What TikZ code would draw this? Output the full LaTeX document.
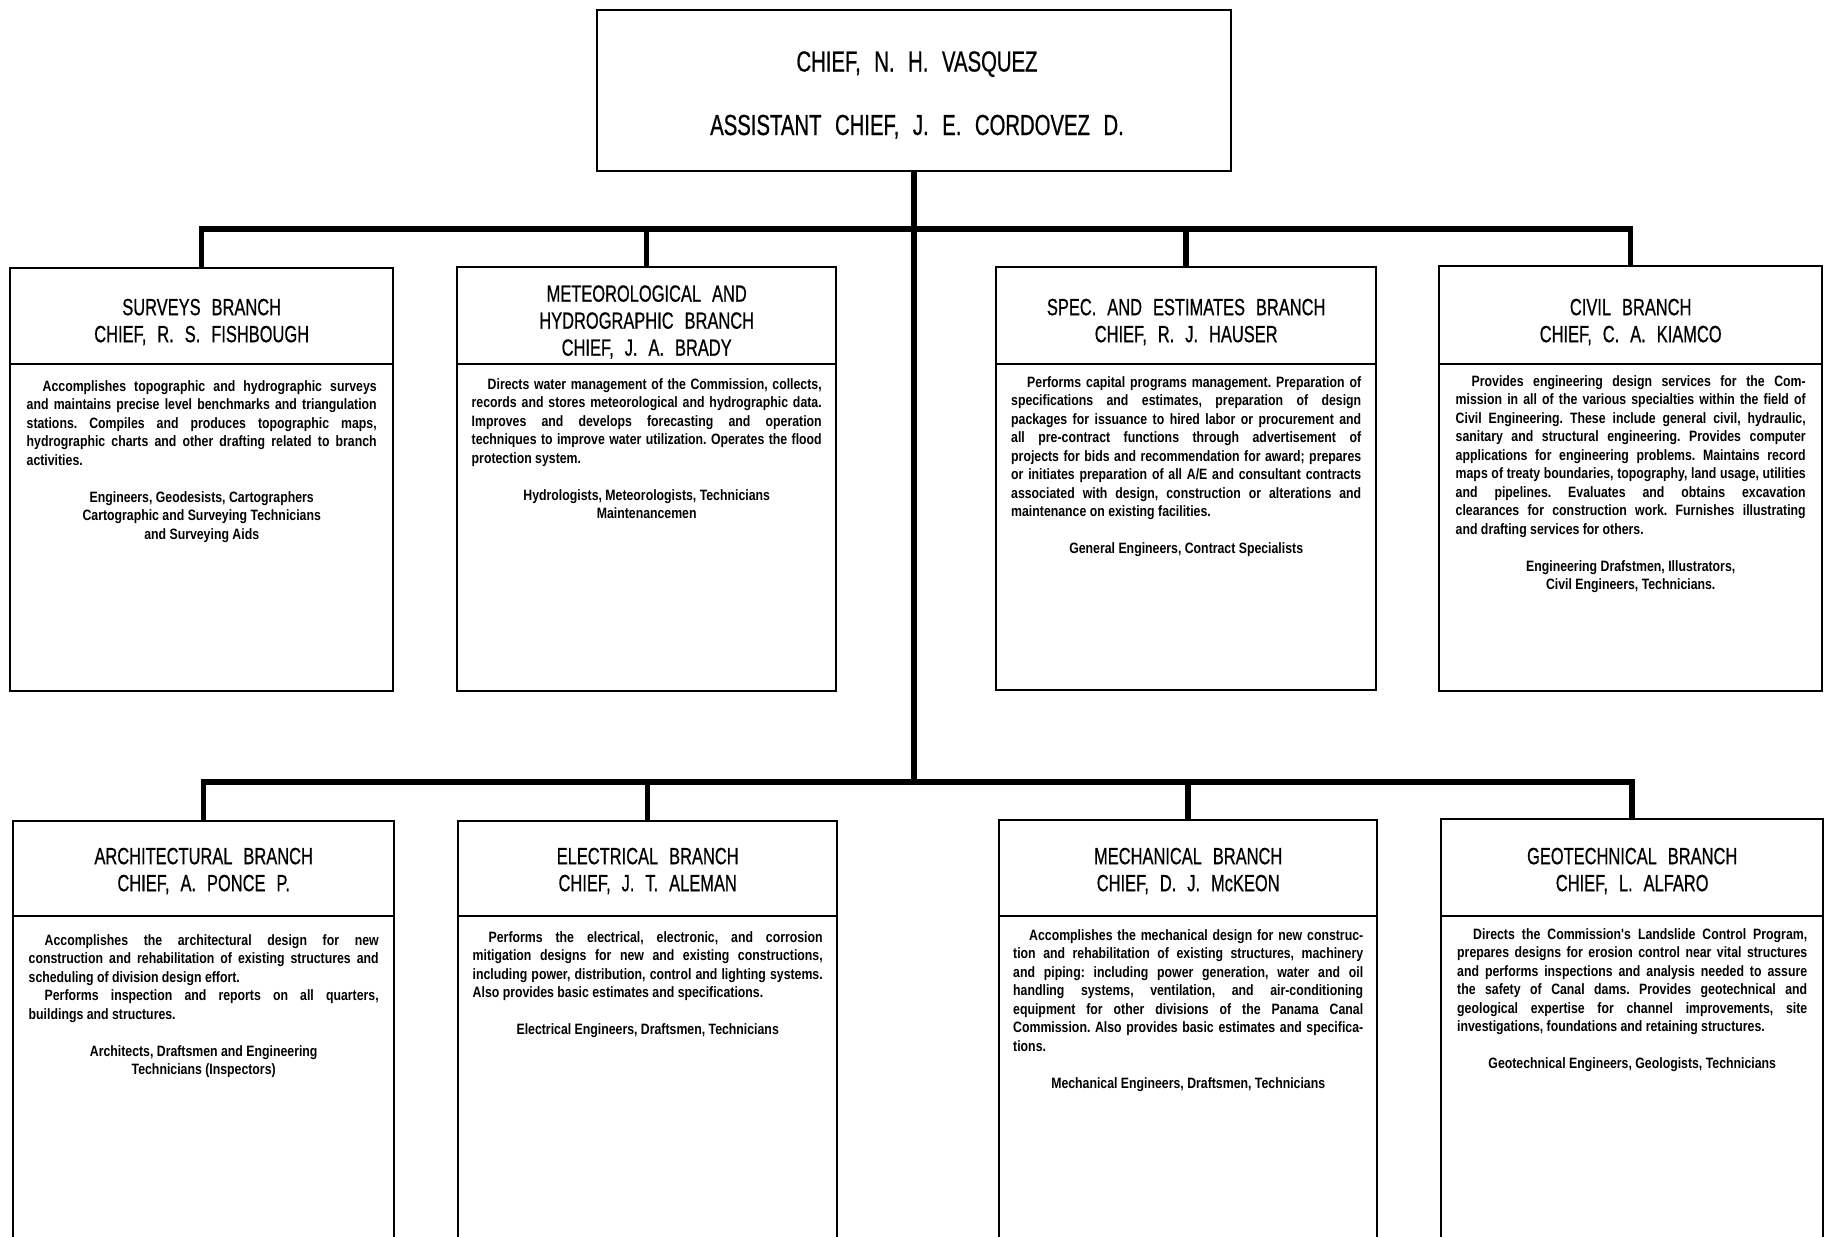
\documentclass[tikz,border=0pt]{standalone}
\usepackage{fontspec}
\setmainfont{Liberation Sans}
\newfontfamily\headfont[FakeStretch=0.70,WordSpace=2.4,FakeBold=0.6]{Liberation Sans}
\newfontfamily\descfont[FakeStretch=0.82]{Liberation Sans}
\begin{document}
\begin{tikzpicture}[x=1pt,y=-1pt,
  branch/.style={draw, line width=2.4pt, rectangle, inner sep=0pt, anchor=north west},
  conn/.style={line width=5.5pt, line join=miter},
  divider/.style={line width=2pt},
  chieftext/.style={anchor=base, inner sep=0pt, font=\headfont\fontsize{29}{32}\selectfont},
  headtext/.style={align=center, inner sep=0pt, font=\headfont\fontsize{23.5}{27}\selectfont},
  desc/.style={text width=350pt, align=justify, anchor=north, inner sep=0pt,
    font=\descfont\bfseries\fontsize{15}{18.5}\selectfont},
]
\fill[white] (0,0) rectangle (1824,1237);
\clip (0,0) rectangle (1824,1237);

% reference levels: buses, header dividers, header centres
\coordinate (ub) at (0,229);
\coordinate (lb) at (0,782);
\coordinate (dvU) at (0,364);
\coordinate (dvL) at (0,916);
\coordinate (hU) at (0,322);
\coordinate (hL) at (0,871);
% tops of the description blocks
\coordinate (d1) at (0,380);
\coordinate (d2) at (0,378);
\coordinate (d3) at (0,376);
\coordinate (d4) at (0,375);
\coordinate (d5) at (0,934);
\coordinate (d6) at (0,931);
\coordinate (d7) at (0,929);
\coordinate (d8) at (0,928);

% division chief
\node[branch, minimum width=634pt, minimum height=161pt] (chief) at (596,9) {};
\node[chieftext] (chiefA) at (917,71.5) {CHIEF, N. H. VASQUEZ};
\node[chieftext] (chiefB) at (917,135) {ASSISTANT CHIEF, J. E. CORDOVEZ D.};

% branch boxes, upper row
\node[branch, minimum width=383pt, minimum height=423pt] (s1) at (9,267) {};
\node[branch, minimum width=379pt, minimum height=424pt] (s2) at (456,266) {};
\node[branch, minimum width=380pt, minimum height=423pt] (s3) at (995,266) {};
\node[branch, minimum width=383pt, minimum height=425pt] (s4) at (1438,265) {};
% branch boxes, lower row (run off the sheet)
\node[branch, minimum width=381pt, minimum height=460pt] (l1) at (12,820) {};
\node[branch, minimum width=379pt, minimum height=460pt] (l2) at (457,820) {};
\node[branch, minimum width=378pt, minimum height=460pt] (l3) at (998,819) {};
\node[branch, minimum width=382pt, minimum height=460pt] (l4) at (1440,818) {};

% header dividers
\foreach \b in {s1,s2,s3,s4} \draw[divider] (\b.west |- dvU) -- (\b.east |- dvU);
\foreach \b in {l1,l2,l3,l4} \draw[divider] (\b.west |- dvL) -- (\b.east |- dvL);

% connectors
\draw[conn] (chief.south) -- (chief.south |- lb);
\draw[conn] (s1.north) -- (s1.north |- ub) -- (s4.north |- ub) -- (s4.north);
\draw[conn] (s2.north) -- (s2.north |- ub);
\draw[conn] (s3.north) -- (s3.north |- ub);
\draw[conn] (l1.north) -- (l1.north |- lb) -- (l4.north |- lb) -- (l4.north);
\draw[conn] (l2.north) -- (l2.north |- lb);
\draw[conn] (l3.north) -- (l3.north |- lb);

% headers
\node[headtext] (s1h) at (s1.north |- hU) {SURVEYS BRANCH\\CHIEF, R. S. FISHBOUGH};
\node[headtext] (s2h) at (s2.north |- hU) {METEOROLOGICAL AND\\HYDROGRAPHIC BRANCH\\CHIEF, J. A. BRADY};
\node[headtext] (s3h) at (s3.north |- hU) {SPEC. AND ESTIMATES BRANCH\\CHIEF, R. J. HAUSER};
\node[headtext] (s4h) at (s4.north |- hU) {CIVIL BRANCH\\CHIEF, C. A. KIAMCO};
\node[headtext] (l1h) at (l1.north |- hL) {ARCHITECTURAL BRANCH\\CHIEF, A. PONCE P.};
\node[headtext] (l2h) at (l2.north |- hL) {ELECTRICAL BRANCH\\CHIEF, J. T. ALEMAN};
\node[headtext] (l3h) at (l3.north |- hL) {MECHANICAL BRANCH\\CHIEF, D. J. McKEON};
\node[headtext] (l4h) at (l4.north |- hL) {GEOTECHNICAL BRANCH\\CHIEF, L. ALFARO};

% descriptions and staffing
\node[desc] (s1d) at (s1.north |- d1) {\parskip=0pt\tolerance=10000\hyphenpenalty=10000\frenchspacing
\noindent\hspace*{16pt}Accomplishes topographic and hydrographic surveys\linebreak
and maintains precise level benchmarks and triangulation\linebreak
stations. Compiles and produces topographic maps,\linebreak
hydrographic charts and other drafting related to branch\linebreak
activities.\par\vskip 18.5pt
{\centering Engineers, Geodesists, Cartographers\par
Cartographic and Surveying Technicians\par
and Surveying Aids\par}};

\node[desc] (s2d) at (s2.north |- d2) {\parskip=0pt\tolerance=10000\hyphenpenalty=10000\frenchspacing
\noindent\hspace*{16pt}Directs water management of the Commission, collects,\linebreak
records and stores meteorological and hydrographic data.\linebreak
Improves and develops forecasting and operation\linebreak
techniques to improve water utilization. Operates the flood\linebreak
protection system.\par\vskip 18.5pt
{\centering Hydrologists, Meteorologists, Technicians\par
Maintenancemen\par}};

\node[desc] (s3d) at (s3.north |- d3) {\parskip=0pt\tolerance=10000\hyphenpenalty=10000\frenchspacing
\noindent\hspace*{16pt}Performs capital programs management. Preparation of\linebreak
specifications and estimates, preparation of design\linebreak
packages for issuance to hired labor or procurement and\linebreak
all pre-contract functions through advertisement of\linebreak
projects for bids and recommendation for award; prepares\linebreak
or initiates preparation of all A/E and consultant contracts\linebreak
associated with design, construction or alterations and\linebreak
maintenance on existing facilities.\par\vskip 18.5pt
{\centering General Engineers, Contract Specialists\par}};

\node[desc] (s4d) at (s4.north |- d4) {\parskip=0pt\tolerance=10000\hyphenpenalty=10000\frenchspacing
\noindent\hspace*{16pt}Provides engineering design services for the Com-\linebreak
mission in all of the various specialties within the field of\linebreak
Civil Engineering. These include general civil, hydraulic,\linebreak
sanitary and structural engineering. Provides computer\linebreak
applications for engineering problems. Maintains record\linebreak
maps of treaty boundaries, topography, land usage, utilities\linebreak
and pipelines. Evaluates and obtains excavation\linebreak
clearances for construction work. Furnishes illustrating\linebreak
and drafting services for others.\par\vskip 18.5pt
{\centering Engineering Drafstmen, Illustrators,\par
Civil Engineers, Technicians.\par}};

\node[desc] (l1d) at (l1.north |- d5) {\parskip=0pt\tolerance=10000\hyphenpenalty=10000\frenchspacing
\noindent\hspace*{16pt}Accomplishes the architectural design for new\linebreak
construction and rehabilitation of existing structures and\linebreak
scheduling of division design effort.\par
\noindent\hspace*{16pt}Performs inspection and reports on all quarters,\linebreak
buildings and structures.\par\vskip 18.5pt
{\centering Architects, Draftsmen and Engineering\par
Technicians (Inspectors)\par}};

\node[desc] (l2d) at (l2.north |- d6) {\parskip=0pt\tolerance=10000\hyphenpenalty=10000\frenchspacing
\noindent\hspace*{16pt}Performs the electrical, electronic, and corrosion\linebreak
mitigation designs for new and existing constructions,\linebreak
including power, distribution, control and lighting systems.\linebreak
Also provides basic estimates and specifications.\par\vskip 18.5pt
{\centering Electrical Engineers, Draftsmen, Technicians\par}};

\node[desc] (l3d) at (l3.north |- d7) {\parskip=0pt\tolerance=10000\hyphenpenalty=10000\frenchspacing
\noindent\hspace*{16pt}Accomplishes the mechanical design for new construc-\linebreak
tion and rehabilitation of existing structures, machinery\linebreak
and piping: including power generation, water and oil\linebreak
handling systems, ventilation, and air-conditioning\linebreak
equipment for other divisions of the Panama Canal\linebreak
Commission. Also provides basic estimates and specifica-\linebreak
tions.\par\vskip 18.5pt
{\centering Mechanical Engineers, Draftsmen, Technicians\par}};

\node[desc] (l4d) at (l4.north |- d8) {\parskip=0pt\tolerance=10000\hyphenpenalty=10000\frenchspacing
\noindent\hspace*{16pt}Directs the Commission's Landslide Control Program,\linebreak
prepares designs for erosion control near vital structures\linebreak
and performs inspections and analysis needed to assure\linebreak
the safety of Canal dams. Provides geotechnical and\linebreak
geological expertise for channel improvements, site\linebreak
investigations, foundations and retaining structures.\par\vskip 18.5pt
{\centering Geotechnical Engineers, Geologists, Technicians\par}};
\end{tikzpicture}
\end{document}
